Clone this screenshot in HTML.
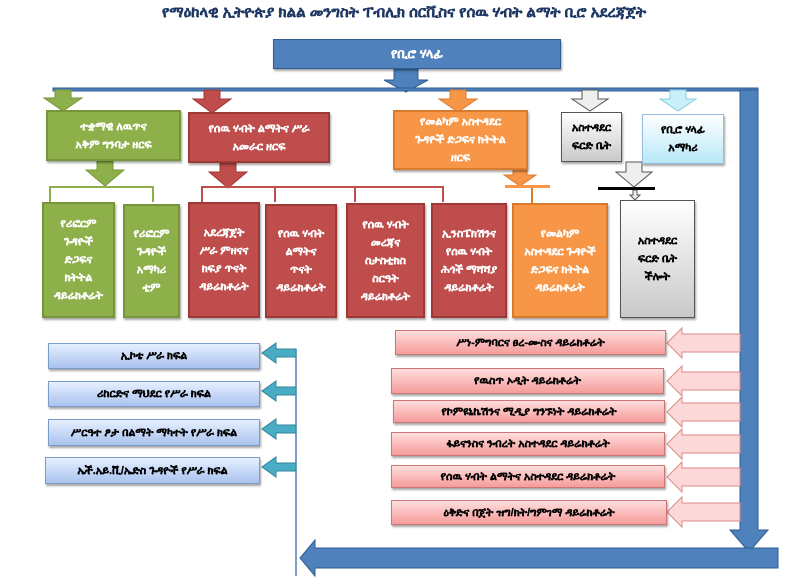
<!DOCTYPE html>
<html><head><meta charset="utf-8"><style>
body{margin:0;width:808px;height:583px;background:#fff;position:relative;overflow:hidden;font-family:"Liberation Sans","DejaVu Sans",sans-serif;}
.b{position:absolute;display:flex;align-items:center;justify-content:center;text-align:center;font-size:11px;font-weight:900;line-height:18px;box-sizing:border-box;box-shadow:1px 2px 2px rgba(0,0,0,.35);-webkit-text-stroke:0.3px currentColor;}
.g{background:#8db04a;border:2px solid #77963a;color:#fff}
.r{background:#bf4d4b;border:2px solid #9d3a38;color:#fff}
.o{background:#f79646;border:2px solid #d97b2e;color:#fff}
.gr{background:linear-gradient(#fff,#c9c9c9);border:1px solid #555;color:#000}
.lb{background:linear-gradient(#fff,#b7e8f7);border:1px solid #9bd;color:#000}
.bl{background:linear-gradient(#e6efff,#a9c3ee);border:1px solid #7a9cc8;color:#000}
.pk{background:linear-gradient(#fdd,#f59c9a);border:1px solid #c77;color:#000}
svg{position:absolute;left:0;top:0}
</style></head><body>
<div style="position:absolute;left:0;width:808px;top:4px;text-align:center;font-size:15px;font-weight:bold;color:#1f3864;-webkit-text-stroke:0.3px #1f3864;">የማዕከላዊ ኢትዮጵያ ክልል መንግስት ፐብሊክ ሰርቪስና የሰዉ ሃብት ልማት ቢሮ አደረጃጀት</div>
<svg width="808" height="583">
<g stroke="#2e5c93" fill="#4f81bd">
<polygon points="394,69 418,69 418,80 428,80 406,92 384,80 394,80"/>
<rect x="53" y="88" width="705" height="3"/>
<polygon points="740,90 758,90 758,530 768,530 749,552 730,530 740,530"/>
<polygon points="778,548 315,548 315,540 300,558 315,576 315,568 778,568"/>
</g>
<line x1="296" y1="349" x2="296" y2="576" stroke="#4f81bd" stroke-width="1.5"/>
<g fill="#8db04a" stroke="#77963a"><polygon points="55,90 71,90 71,98 82,98 63,111 44,98 55,98"/>
<polygon points="97,161 113,161 113,170 124,170 105,186 86,170 97,170"/></g>
<g fill="#bf4d4b" stroke="#9d3a38"><polygon points="204,90 220,90 220,99 231,99 212,113 193,99 204,99"/>
<polygon points="220,163 236,163 236,172 247,172 228,188 209,172 220,172"/></g>
<g fill="#f79646" stroke="#d97b2e"><polygon points="450,90 466,90 466,99 477,99 458,112 439,99 450,99"/>
<polygon points="513,166 527,166 527,175 536,175 520,186 504,175 513,175"/></g>
<g fill="#eee" stroke="#555"><polygon points="582,90 598,90 598,99 608,99 590,111 572,99 582,99"/>
<polygon points="626,162 642,162 642,172 652,172 634,187 616,172 626,172"/>
<polygon points="633,190 637,190 637,195 640,195 635,200 630,195 633,195"/></g>
<g fill="#c9f0fb" stroke="#8cd"><polygon points="670,90 686,90 686,99 696,99 678,111 660,99 670,99"/></g>
<g fill="none" stroke-width="2"><path d="M50,202 V187 H153 V202" stroke="#8db04a"/>
<path d="M202,202 V187 H443 V202 M275,187 V202 M355,187 V202" stroke="#bf4d4b"/>
<path d="M532,187 V203" stroke="#d97b2e"/></g>
<rect x="505" y="185" width="45" height="3" fill="#f79646"/>
<rect x="598" y="187" width="57" height="3" fill="#000"/>
<g fill="#4bacc6" stroke="#31859c">
<polygon points="296,349 276,349 276,343 262,353 276,363 276,357 296,357"/>
<polygon points="296,387 276,387 276,381 262,391 276,401 276,395 296,395"/>
<polygon points="296,425 276,425 276,419 262,429 276,439 276,433 296,433"/>
<polygon points="296,463 276,463 276,457 262,467 276,477 276,471 296,471"/></g>
<g fill="#fcd9d8" stroke="#d88">
<polygon points="740,334 682,334 682,328 667,343 682,358 682,352 740,352"/>
<polygon points="740,372 682,372 682,366 667,381 682,396 682,390 740,390"/>
<polygon points="740,403 682,403 682,397 667,412 682,427 682,421 740,421"/>
<polygon points="740,435 682,435 682,429 667,444 682,459 682,453 740,453"/>
<polygon points="740,468 682,468 682,462 667,477 682,492 682,486 740,486"/>
<polygon points="740,503 682,503 682,497 667,512 682,527 682,521 740,521"/></g>
</svg>
<div class="b" style="left:273px;top:39px;width:288px;height:30px;background:#4f81bd;border:1px solid #2e5c93;color:#fff;font-size:13px">የቢሮ ሃላፊ</div>
<div class="b g" style="left:46px;top:110px;width:135px;height:51px">ተቋማዊ ለዉጥና<br>አቅም ግንባታ ዘርፍ</div>
<div class="b r" style="left:188px;top:112px;width:142px;height:51px">የሰዉ ሃብት ልማትና ሥራ<br>አመራር ዘርፍ</div>
<div class="b o" style="left:393px;top:110px;width:135px;height:60px">የመልካም አስተዳደር<br>ጉዳዮች ድጋፍና ክትትል<br>ዘርፍ</div>
<div class="b gr" style="left:561px;top:112px;width:61px;height:50px">አስተዳደር<br>ፍርድ ቤት</div>
<div class="b lb" style="left:642px;top:114px;width:82px;height:50px">የቢሮ ሃላፊ<br>አማካሪ</div>
<div class="b g" style="left:42px;top:202px;width:73px;height:116px">የሪፎርም<br>ጉዳዮች<br>ድጋፍና<br>ክትትል<br>ዳይሬክቶሬት</div>
<div class="b g" style="left:123px;top:204px;width:57px;height:114px">የሪፎርም<br>ጉዳዮች<br>አማካሪ<br>ቲም</div>
<div class="b r" style="left:188px;top:202px;width:72px;height:116px">አደረጃጀት<br>ሥራ ምዘናና<br>ክፍያ ጥናት<br>ዳይሬክቶሬት</div>
<div class="b r" style="left:265px;top:204px;width:72px;height:114px">የሰዉ ሃብት<br>ልማትና<br>ጥናት<br>ዳይሬክቶሬት</div>
<div class="b r" style="left:346px;top:203px;width:79px;height:115px">የሰዉ ሃብት<br>መረጃና<br>ስታስቲክስ<br>ስርዓት<br>ዳይሬክቶሬት</div>
<div class="b r" style="left:431px;top:203px;width:76px;height:115px">ኢንስፔክሽንና<br>የሰዉ ሃብት<br>ሕጎች ማሻሻያ<br>ዳይሬክቶሬት</div>
<div class="b o" style="left:512px;top:203px;width:96px;height:115px">የመልካም<br>አስተዳደር ጉዳዮች<br>ድጋፍና ክትትል<br>ዳይሬክቶሬት</div>
<div class="b gr" style="left:620px;top:200px;width:75px;height:118px">አስተዳደር<br>ፍርድ ቤት<br>ችሎት</div>
<div class="b bl" style="left:48px;top:343px;width:212px;height:26px">ኢኮቴ ሥራ ክፍል</div>
<div class="b bl" style="left:48px;top:381px;width:212px;height:26px">ሪከርድና ማህደር የሥራ ክፍል</div>
<div class="b bl" style="left:48px;top:419px;width:212px;height:27px">ሥርዓተ ፆታ በልማት ማካተት የሥራ ክፍል</div>
<div class="b bl" style="left:45px;top:457px;width:215px;height:27px">ኤች.አይ.ቪ/ኤድስ ጉዳዮች የሥራ ክፍል</div>
<div class="b pk" style="left:395px;top:330px;width:271px;height:25px">ሥነ-ምግባርና ፀረ-ሙስና ዳይሬክቶሬት</div>
<div class="b pk" style="left:391px;top:368px;width:273px;height:26px">የዉስጥ ኦዲት ዳይሬክቶሬት</div>
<div class="b pk" style="left:393px;top:400px;width:272px;height:23px">የኮምዩኒኬሽንና ሚዲያ ግንኙነት ዳይሬክቶሬት</div>
<div class="b pk" style="left:391px;top:432px;width:274px;height:24px">ፋይናንስና ንብረት አስተዳደር ዳይሬክቶሬት</div>
<div class="b pk" style="left:391px;top:465px;width:274px;height:23px">የሰዉ ሃብት ልማትና አስተዳደር ዳይሬክቶሬት</div>
<div class="b pk" style="left:391px;top:500px;width:276px;height:25px">ዕቅድና በጀት ዝግ/ክት/ግምገማ ዳይሬክቶሬት</div>
</body></html>
